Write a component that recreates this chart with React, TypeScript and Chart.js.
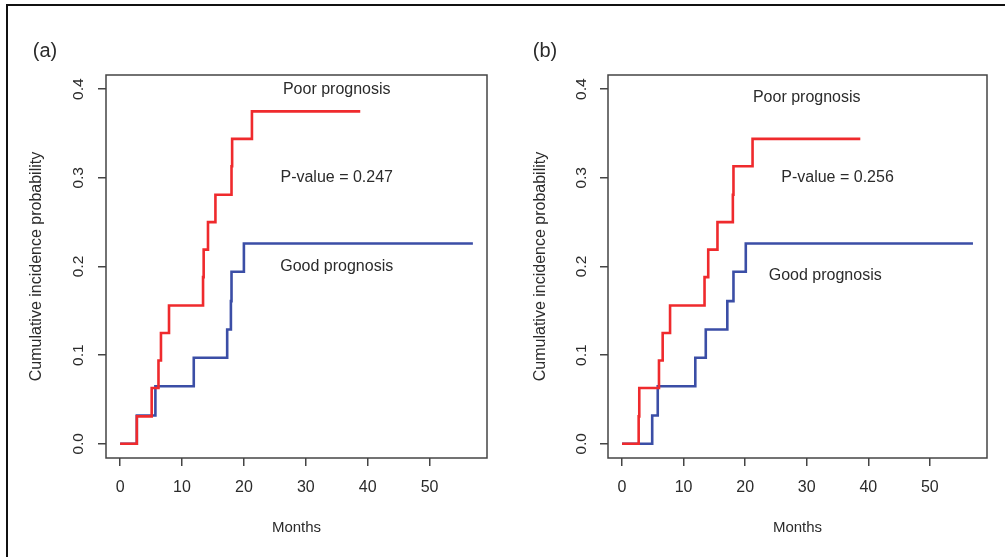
import React, { useEffect, useRef } from 'react';
import { Chart, registerables } from 'chart.js';

Chart.register(...registerables);

// ---------- data ----------
const monthTicks = [0, 10, 20, 30, 40, 50];
const probTicks = [0, 0.1, 0.2, 0.3, 0.4];

// Panel (a)
const aPoorMonths = [0, 2.7, 5.1, 6.2, 6.6, 7.9, 13.4, 13.5, 14.2, 15.4, 18.0, 18.1, 21.3, 38.8];
const aPoorProb = [0, 0.031, 0.063, 0.094, 0.125, 0.156, 0.188, 0.219, 0.25, 0.281, 0.313, 0.344, 0.375, 0.375];
const aGoodMonths = [0, 2.7, 5.7, 11.9, 17.3, 17.9, 18.0, 20.0, 57.0];
const aGoodProb = [0, 0.032, 0.065, 0.097, 0.129, 0.161, 0.194, 0.226, 0.226];

// Panel (b)
const bPoorMonths = [0, 2.7, 2.8, 6.0, 6.6, 7.8, 13.4, 14.0, 15.5, 18.0, 18.1, 21.2, 38.7];
const bPoorProb = [0, 0.031, 0.063, 0.094, 0.125, 0.156, 0.188, 0.219, 0.25, 0.281, 0.313, 0.344, 0.344];
const bGoodMonths = [0, 4.9, 5.8, 11.9, 13.6, 17.1, 18.1, 20.1, 57.0];
const bGoodProb = [0, 0.032, 0.065, 0.097, 0.129, 0.161, 0.194, 0.226, 0.226];

const noteTexts = ['Poor prognosis', 'P-value = 0.247', 'Good prognosis'];
const noteTextsB = ['Poor prognosis', 'P-value = 0.256', 'Good prognosis'];

const FONT = '"Liberation Sans", Arial, Helvetica, sans-serif';
const RED = '#ef2a2d';
const BLUE = '#3b4ea6';
const AXIS = '#444444';
const TEXT = '#2b2b2b';

const decorPlugin = {
  id: 'panelDecor',
  afterDatasetsDraw(chart: any, _args: any, opts: any) {
    const { ctx, chartArea, scales } = chart;
    const { left, top, right, bottom } = chartArea;
    ctx.save();
    ctx.strokeStyle = AXIS;
    ctx.lineWidth = 1.5;
    ctx.strokeRect(left, top, right - left, bottom - top);
    ctx.fillStyle = TEXT;
    ctx.textAlign = 'center';
    ctx.textBaseline = 'middle';
    ctx.font = `16px ${FONT}`;
    (opts.notes || []).forEach((n: any) => {
      ctx.fillText(n.text, scales.x.getPixelForValue(n.x), scales.y.getPixelForValue(n.y));
    });
    ctx.font = `20px ${FONT}`;
    ctx.fillText(opts.tag, opts.tagX, opts.tagY);
    ctx.restore();
  },
};

type PanelProps = {
  left: number;
  width: number;
  padRight: number;
  poorX: number[];
  poorY: number[];
  goodX: number[];
  goodY: number[];
  notes: { text: string; x: number; y: number }[];
  tag: string;
  tagX: number;
  tickPad: number;
  titlePad: number;
};

function Panel(p: PanelProps) {
  const ref = useRef<HTMLCanvasElement | null>(null);
  useEffect(() => {
    if (!ref.current) return;
    const chart = new Chart(ref.current, {
      type: 'line',
      data: {
        datasets: [
          {
            label: 'Poor prognosis',
            data: p.poorX.map((m, i) => ({ x: m, y: p.poorY[i] })),
            borderColor: RED,
            borderWidth: 2.6,
            pointRadius: 0,
            stepped: true,
            fill: false,
            borderJoinStyle: 'miter',
            borderCapStyle: 'butt',
          },
          {
            label: 'Good prognosis',
            data: p.goodX.map((m, i) => ({ x: m, y: p.goodY[i] })),
            borderColor: BLUE,
            borderWidth: 2.6,
            pointRadius: 0,
            stepped: true,
            fill: false,
            borderJoinStyle: 'miter',
            borderCapStyle: 'butt',
          },
        ],
      },
      options: {
        animation: false,
        responsive: false,
        devicePixelRatio: 1,
        layout: { padding: { top: 75, right: p.padRight, left: 0, bottom: 0 } },
        plugins: {
          legend: { display: false },
          tooltip: { enabled: false },
          panelDecor: { notes: p.notes, tag: p.tag, tagX: p.tagX, tagY: 51 },
        } as any,
        scales: {
          x: {
            type: 'linear',
            min: -2.28,
            max: 59.28,
            afterBuildTicks: (s: any) => {
              s.ticks = monthTicks.map((v) => ({ value: v }));
            },
            afterFit: (s: any) => {
              s.height = 99;
            },
            ticks: {
              autoSkip: false,
              maxRotation: 0,
              minRotation: 0,
              padding: 12,
              color: TEXT,
              font: { family: FONT, size: 16 },
              callback: (v: any) => String(v),
            },
            grid: {
              display: true,
              drawOnChartArea: false,
              drawTicks: true,
              tickLength: 8,
              color: AXIS,
              lineWidth: 1.5,
            },
            border: { display: false },
            title: {
              display: true,
              text: 'Months',
              color: TEXT,
              font: { family: FONT, size: 15 },
              padding: { top: 0, bottom: 20 },
            },
          },
          y: {
            type: 'linear',
            min: -0.016,
            max: 0.416,
            afterBuildTicks: (s: any) => {
              s.ticks = probTicks.map((v) => ({ value: v }));
            },
            afterFit: (s: any) => {
              s.width = 106;
            },
            ticks: {
              minRotation: 90,
              maxRotation: 90,
              crossAlign: 'center',
              padding: p.tickPad,
              color: TEXT,
              font: { family: FONT, size: 15.5 },
              callback: (v: any) => Number(v).toFixed(1),
            },
            grid: {
              display: true,
              drawOnChartArea: false,
              drawTicks: true,
              tickLength: 8,
              color: AXIS,
              lineWidth: 1.5,
            },
            border: { display: false },
            title: {
              display: true,
              text: 'Cumulative incidence probability',
              color: TEXT,
              font: { family: FONT, size: 16 },
              padding: { top: p.titlePad, bottom: 0 },
            },
          },
        },
      } as any,
      plugins: [decorPlugin],
    });
    return () => chart.destroy();
  }, []);
  return (
    <canvas
      ref={ref}
      width={p.width}
      height={557}
      style={{ position: 'absolute', left: p.left, top: 0, width: p.width, height: 557, display: 'block' }}
    />
  );
}

export default function App() {
  const notesA = [
    { text: noteTexts[0], x: 35, y: 0.4 },
    { text: noteTexts[1], x: 35, y: 0.3 },
    { text: noteTexts[2], x: 35, y: 0.2 },
  ];
  const notesB = [
    { text: noteTextsB[0], x: 30, y: 0.39 },
    { text: noteTextsB[1], x: 35, y: 0.3 },
    { text: noteTextsB[2], x: 33, y: 0.19 },
  ];
  return (
    <div style={{ position: 'fixed', left: 0, top: 0, width: 1005, height: 557, background: '#fff', overflow: 'hidden' }}>
      <Panel
        left={0}
        width={500}
        padRight={13}
        poorX={aPoorMonths}
        poorY={aPoorProb}
        goodX={aGoodMonths}
        goodY={aGoodProb}
        notes={notesA}
        tag="(a)"
        tagX={45}
        tickPad={9}
        titlePad={27}
      />
      <Panel
        left={502}
        width={503}
        padRight={18}
        poorX={bPoorMonths}
        poorY={bPoorProb}
        goodX={bGoodMonths}
        goodY={bGoodProb}
        notes={notesB}
        tag="(b)"
        tagX={43}
        tickPad={8}
        titlePad={29}
      />
      <div
        style={{
          position: 'absolute',
          left: 6,
          top: 4,
          width: 1010,
          height: 560,
          borderTop: '2px solid #111',
          borderLeft: '2px solid #111',
          pointerEvents: 'none',
        }}
      />
    </div>
  );
}
